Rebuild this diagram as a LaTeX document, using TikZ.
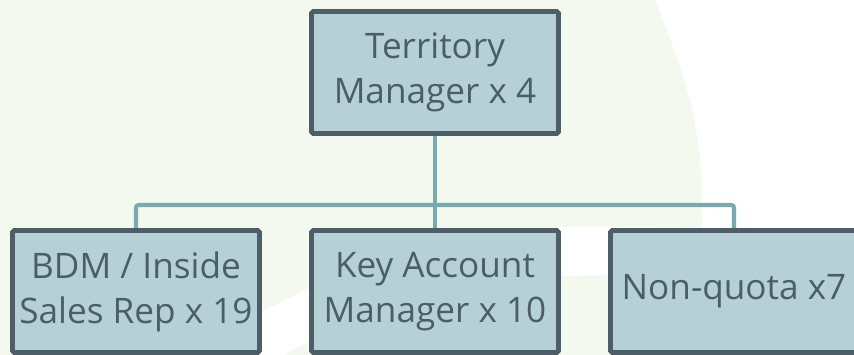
\documentclass[tikz,border=0pt]{standalone}
\usepackage{fontspec}
\setmainfont{Open Sans}
\definecolor{bgGreen}{HTML}{F4F9F0}
\definecolor{boxFill}{HTML}{B6D1D5}
\definecolor{boxLine}{HTML}{4E5E68}
\definecolor{linkLine}{HTML}{79AAB0}
\definecolor{textGray}{HTML}{4D5D66}
\begin{document}
\begin{tikzpicture}[
    every node/.style={font=\fontsize{20}{25.5}\selectfont, text=textGray},
    role/.style={draw=boxLine, fill=boxFill, line width=2.8pt, rounded corners=1pt,
                 minimum width=4.94cm, minimum height=2.44cm, align=center, inner sep=0pt},
    link/.style={draw=linkLine, line width=2.3pt, rounded corners=1.5pt}
]

% ---- background ----
\useasboundingbox (0,0) rectangle (17.08,7.10);
\fill[bgGreen] (0,0) rectangle (17.08,7.10);
\fill[white] (13.10,7.10) .. controls (13.70,5.60) and (14.04,4.60) .. (14.04,3.10)
  -- (14.04,2.54) -- (12.16,2.56) -- (12.16,1.60) -- (17.08,1.60) -- (17.08,7.10) -- cycle;
\fill[white] (5.00,0.74) -- (6.20,1.36) -- (11.24,2.56) -- (12.20,2.56)
  -- (12.20,1.60) -- (11.24,1.58) -- (6.20,0.28) -- (5.00,-0.34) -- cycle;

% ---- territory manager ----
\node[role] (tm) at (8.70,5.65) {Territory\\Manager x 4};

% ---- reports ----
\node[role] (bdm) at (2.72,1.27) {BDM / Inside\\Sales Rep x 19};
\node[role] (kam) at (8.70,1.27) {Key Account\\Manager x 10};
\node[role] (nq) at (14.68,1.27) {Non-quota x7};

% ---- connectors ----
\coordinate (bar) at (8.70,3.00);
\draw[link] (bdm.north) -- (bdm.north |- bar) -- (nq.north |- bar) -- (nq.north);
\draw[link] (tm.south) -- (kam.north);

\end{tikzpicture}
\end{document}
